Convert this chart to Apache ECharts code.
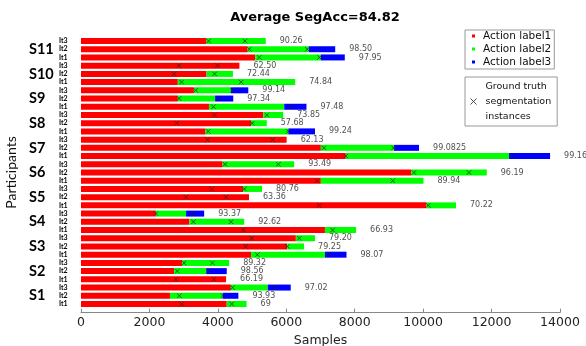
<!DOCTYPE html>
<html>
<head>
<meta charset="utf-8">
<script src="https://cdn.jsdelivr.net/npm/echarts@6/dist/echarts.min.js"></script>
<style>html,body{margin:0;padding:0;background:#fff}#c{width:586px;height:346px}</style>
</head>
<body>
<div id="c"></div>
<script>
// Rows listed top to bottom
const participants = ['S11','S10','S9','S8','S7','S6','S5','S4','S3','S2','S1'];
const iterations = ['It3','It2','It1'];
const label1 = [3670,4870,5090, 4630,3670,2830, 3300,2830,3740, 5330,4970,3640, 6010,7010,7740, 4140,9650,7010, 4740,4910,10100, 2190,3170,7130, 6280,6030,4970, 2960,2720,4240, 4380,2600,4260];
const label2 = [1730,1790,1920, 0,770,3430, 1080,1090,2200, 580,460,2420, 0,2140,4770, 2090,2210,3000, 550,0,860, 880,1600,910, 560,490,2160, 1370,940,0, 1080,1540,580];
const label3 = [0,770,700, 0,0,0, 510,530,650, 0,0,780, 0,730,1200, 0,0,0, 0,0,0, 530,0,0, 0,0,630, 0,600,0, 670,460,0];
const groundTruth = [[3730,4790],[4920,6615],[5210,6970],[2865,3990],[2720,3905],[2940,4680],[3350,4430],[2865,4040],[3870,6140],[3905,5430],[2800,5005],[3720,6060],[3700,5600],[7100,9135],[7740,12610],[4210,5770],[9730,11340],[6905,9110],[3820,4775],[3070,4240],[6965,10150],[2190,3265],[3285,4385],[4745,7355],[4990,6380],[4810,6030],[5155,7230],[3010,3840],[2815,3720],[2775,3890],[4430,5670],[2875,4150],[2945,4405]];
const accuracy = ['90.26','98.50','97.95','62.50','72.44','74.84','99.14','97.34','97.48','73.85','57.68','99.24','62.13','99.0825','99.16','93.49','96.19','89.94','80.76','63.36','70.22','93.37','92.62','66.93','79.20','79.25','98.07','89.32','98.56','66.19','97.02','93.93','69'];
const xTicks = {min:0, max:14000, interval:2000};

const categories = [];
participants.forEach(p => iterations.forEach(it => categories.push(p + ' ' + it)));
const totals = label1.map((v,i) => v + label2[i] + label3[i]);
const gtData = [];
groundTruth.forEach((pair,i) => pair.forEach(v => gtData.push([v, categories[i]])));
const GT = 'Ground truth\nsegmentation\ninstances';
const cross = 'path://M0,0L10,10M10,0L0,10';

const chart = echarts.init(document.getElementById('c'), null, {renderer:'canvas'});
chart.setOption({
  animation: false,
  title: {
    text: 'Average SegAcc=84.82', left: 310, top: 6, textAlign: 'center',
    textStyle: {fontFamily:'DejaVu Sans', fontWeight:'bold', fontSize:13, color:'#000'}
  },
  legend: [{
    data: ['Action label1','Action label2','Action label3'],
    orient: 'vertical', left: 465, top: 30, icon: 'rect',
    itemWidth: 3, itemHeight: 3, itemGap: 1,
    padding: [0, 3, 1, 7], borderColor: '#999', borderWidth: 1, borderRadius: 0,
    textStyle: {fontFamily:'DejaVu Sans', fontSize:10.5, color:'#111', lineHeight:12, padding:[0,0,0,3]}
  }, {
    data: [{name: GT, icon: cross, itemStyle:{color:'none', borderColor:'#222', borderWidth:1}}],
    orient: 'vertical', left: 465, top: 77, itemWidth: 6, itemHeight: 6,
    padding: [2, 6, 2, 3], borderColor: '#999', borderWidth: 1, borderRadius: 0,
    textStyle: {fontFamily:'DejaVu Sans', fontSize:9.5, color:'#111', lineHeight:15, padding:[0,0,0,4]}
  }],
  grid: {left: 81, right: 26, top: 36.9, bottom: 37.9, containLabel: false, outerBoundsMode: 'none'},
  xAxis: {
    type: 'value', min: xTicks.min, max: xTicks.max, interval: xTicks.interval, offset: 4.5,
    name: 'Samples', nameLocation: 'middle', nameGap: 16,
    nameTextStyle: {fontFamily:'DejaVu Sans', fontSize:12.5, color:'#222'},
    splitLine: {show:false},
    axisLine: {show:true, lineStyle:{color:'#888', width:1}},
    axisTick: {show:true, inside:true, length:4, lineStyle:{color:'#888'}},
    axisLabel: {fontFamily:'DejaVu Sans', fontSize:12.5, color:'#222', margin:4, formatter: v => String(v)}
  },
  yAxis: {
    type: 'category', data: categories, inverse: true,
    name: 'Participants', nameLocation: 'middle', nameGap: 63, nameRotate: 90,
    nameTextStyle: {fontFamily:'Lato', fontSize:14, color:'#111'},
    axisLine: {show:false}, axisTick: {show:false}, splitLine: {show:false},
    axisLabel: {
      margin: 52, align: 'left', interval: 0,
      formatter: v => {
        const [s, it] = v.split(' ');
        return it === 'It2' ? '{s|' + s + '}{it|' + it + '}' : '{it2|' + it + '}';
      },
      rich: {
        s: {fontFamily:'Lato', fontWeight:'bold', fontSize:14.5, color:'#000', width:30, verticalAlign:'middle'},
        it: {fontFamily:'Lato', fontWeight:'bold', fontSize:7, color:'#000', verticalAlign:'middle'},
        it2: {fontFamily:'Lato', fontWeight:'bold', fontSize:7, color:'#000', padding:[0,0,0,30], verticalAlign:'middle'}
      }
    }
  },
  series: [
    {name:'Action label1', type:'bar', stack:'t', data:label1, barWidth:6, itemStyle:{color:'#ff0000'}},
    {name:'Action label2', type:'bar', stack:'t', data:label2, barWidth:6, itemStyle:{color:'#00ff00'}},
    {name:'Action label3', type:'bar', stack:'t', data:label3, barWidth:6, itemStyle:{color:'#0000ff'}},
    {name: GT, type:'scatter', data: gtData, symbol: cross, symbolSize: 4.5, z: 5,
     itemStyle:{color:'none', borderColor:'#222', borderWidth:0.9}},
    {name:'acc', type:'scatter', data: totals.map((v,i) => [v, categories[i]]), symbolSize: 1, z: 5,
     itemStyle:{color:'transparent'},
     label:{show:true, position:'right', distance:13.5, formatter: p => accuracy[p.dataIndex],
            fontFamily:'DejaVu Sans', fontSize:8, color:'#222'}}
  ]
});
</script>
</body>
</html>
